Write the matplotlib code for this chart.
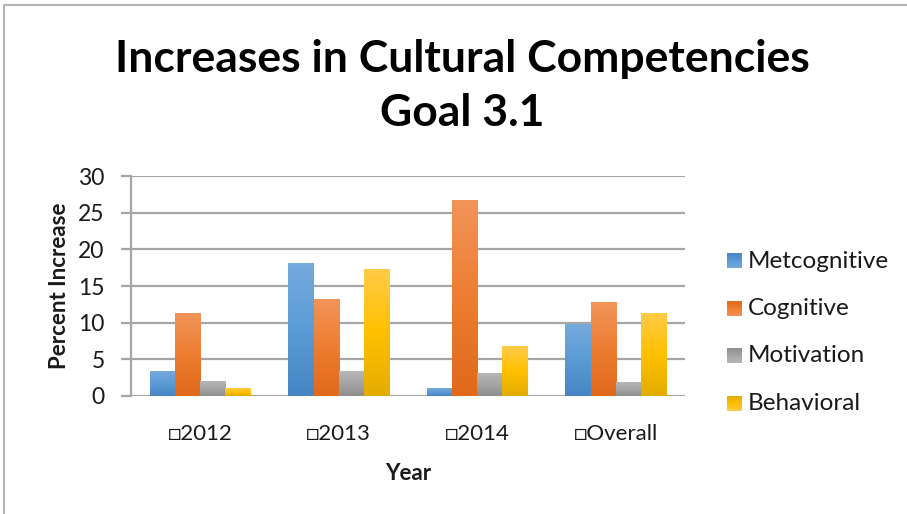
import numpy as np
import matplotlib
matplotlib.use("Agg")
import matplotlib.pyplot as plt
from matplotlib.colors import LinearSegmentedColormap
from matplotlib.lines import Line2D

# ---- data ----
categories = ["\u25a1" + "2012", "\u25a1" + "2013", "\u25a1" + "2014", "\u25a1" + "Overall"]
series_names = ["Metcognitive", "Cognitive", "Motivation", "Behavioral"]
metcognitive = [3.3, 18.1, 1.0, 9.7]
cognitive = [11.3, 13.1, 26.7, 12.7]
motivation = [2.0, 3.4, 3.1, 1.9]
behavioral = [1.0, 17.3, 6.8, 11.3]
series_values = [metcognitive, cognitive, motivation, behavioral]

title_lines = ["Increases in Cultural Competencies", "Goal 3.1"]
y_label = "Percent Increase"
x_label = "Year"
y_ticks = [0, 5, 10, 15, 20, 25, 30]

# three-stop vertical gradients (bottom, middle, top)
gradients = [
    ["#4785c4", "#5b9bd5", "#75aadd"],
    ["#e0691a", "#ed7d31", "#f29459"],
    ["#8e8e8e", "#a5a5a5", "#b6b6b6"],
    ["#e3ac00", "#ffc000", "#ffcb48"],
]
cmaps = [LinearSegmentedColormap.from_list(f"g{i}", g) for i, g in enumerate(gradients)]
ramp = np.linspace(0, 1, 256).reshape(-1, 1)

W, H = 907, 514
fig = plt.figure(figsize=(W / 100, H / 100), dpi=100)
font = ["Lato", "DejaVu Sans"]
txt = "#1a1a1a"

ax = fig.add_axes([131 / W, 1 - 396 / H, (685 - 131) / W, (396 - 176) / H])

n = len(series_names)
x = np.arange(len(categories))
gap = 1.5
bw = 1.0 / (n + gap)
for i, (vals, cm) in enumerate(zip(series_values, cmaps)):
    offs = x - 0.5 + (gap / 2 + i) * bw
    bars = ax.bar(offs, vals, width=bw, align="edge", color="none", zorder=2)
    for b in bars:
        x0, w, h = b.get_x(), b.get_width(), b.get_height()
        ax.imshow(ramp, cmap=cm, origin="lower", aspect="auto",
                  extent=[x0, x0 + w, 0, h], zorder=2, interpolation="bilinear")

ax.set_xlim(-0.5, len(categories) - 0.5)
ax.set_ylim(0, 30)
ax.set_yticks(y_ticks)
ax.set_xticks(x)
ax.set_xticklabels(categories, fontsize=16, family=font, color=txt)
ax.set_yticklabels([str(t) for t in y_ticks], fontsize=16.5, family=font, color=txt)
ax.yaxis.grid(True, color="#a6a6a6", linewidth=1.6, zorder=0)
ax.set_axisbelow(True)
for s in ["top", "right", "bottom"]:
    ax.spines[s].set_visible(False)
ax.spines["left"].set_color("#a6a6a6")
ax.spines["left"].set_linewidth(1.6)
ax.tick_params(axis="y", length=7, width=1.6, color="#a6a6a6", pad=12)
ax.tick_params(axis="x", length=0, pad=20)

ax.set_ylabel(y_label, fontsize=16, fontweight="bold", family=font, labelpad=6, color=txt)
ax.set_xlabel(x_label, fontsize=16, fontweight="bold", family=font, labelpad=14, color=txt)

# overlay in pixel coordinates for title, legend and chart border
ov = fig.add_axes([0, 0, 1, 1], zorder=3)
ov.set_xlim(0, W)
ov.set_ylim(H, 0)
ov.axis("off")
ov.add_line(Line2D([4, 4, W + 5], [H + 5, 5, 5], color="#b3b3b3", linewidth=1.5))

for line, base in zip(title_lines, [72, 126]):
    ov.text(462, base, line, ha="center", va="baseline", fontsize=32,
            fontweight="bold", family=font, color="black")

for i, (name, cm) in enumerate(zip(series_names, cmaps)):
    yc = 261 + i * 47.5
    ov.imshow(ramp, cmap=cm, origin="upper", aspect="auto",
              extent=[727, 742, yc + 7.5, yc - 7.5], interpolation="bilinear")
    ov.text(748, yc, name, fontsize=17.5, family=font, va="center", ha="left", color=txt)
ov.set_xlim(0, W)
ov.set_ylim(H, 0)

fig.savefig("out.png", dpi=100)
